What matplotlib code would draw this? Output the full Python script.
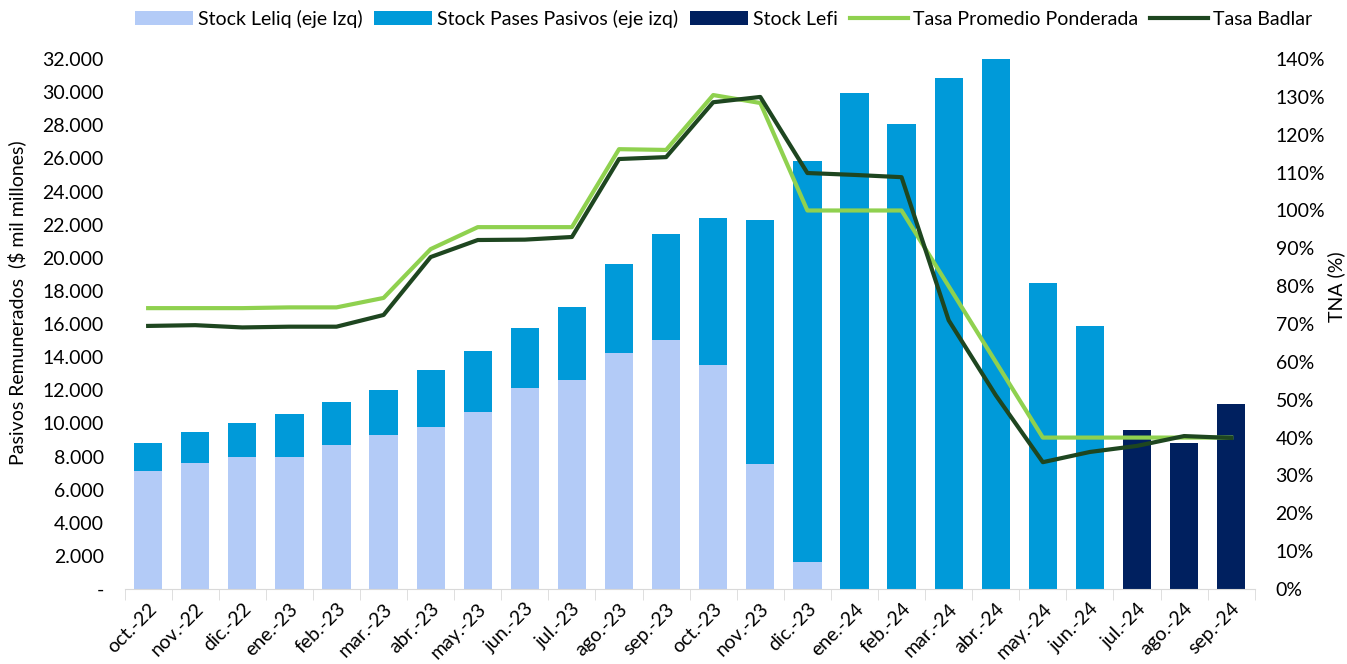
import numpy as np
import matplotlib.pyplot as plt
from matplotlib.ticker import FuncFormatter, MultipleLocator

plt.rcParams['font.family'] = ['Lato', 'DejaVu Sans']

# Datos: stocks en $ mil millones, tasas en % TNA
meses = ['oct.-22', 'nov.-22', 'dic.-22', 'ene.-23', 'feb.-23', 'mar.-23', 'abr.-23',
         'may.-23', 'jun.-23', 'jul.-23', 'ago.-23', 'sep.-23', 'oct.-23', 'nov.-23',
         'dic.-23', 'ene.-24', 'feb.-24', 'mar.-24', 'abr.-24', 'may.-24', 'jun.-24',
         'jul.-24', 'ago.-24', 'sep.-24']

stock_leliq = [7100, 7600, 7970, 7970, 8700, 9300, 9780, 10690, 12140, 12620, 14250,
               15040, 13530, 7550, 1630, 0, 0, 0, 0, 0, 0, 0, 0, 0]
stock_total_leliq_pases = [8820, 9480, 10020, 10570, 11290, 12020, 13220, 14370, 15760,
                           17030, 19620, 21440, 22400, 22280, 25840, 29950, 28080, 30850,
                           32060, 18480, 15880, 0, 0, 0]
stock_lefi = [0, 0, 0, 0, 0, 0, 0, 0, 0, 0, 0, 0, 0, 0, 0, 0, 0, 0, 0, 0, 0,
              9600, 8820, 11170]

tasa_prom = [74.2, 74.2, 74.2, 74.4, 74.4, 76.9, 89.8, 95.6, 95.6, 95.6, 116.2, 116.0,
             130.5, 128.4, 100.0, 100.0, 100.0, 80.0, 60.0, 40.0, 40.0, 40.0, 40.0, 40.0]
tasa_badlar = [69.5, 69.7, 69.1, 69.3, 69.3, 72.4, 87.7, 92.2, 92.3, 93.0, 113.6, 114.1,
               128.6, 130.0, 109.9, 109.4, 108.8, 71.0, 51.2, 33.5, 36.2, 37.8, 40.4, 39.9]

stock_pases = [t - l for t, l in zip(stock_total_leliq_pases, stock_leliq)]

c_leliq = '#b3cbf7'
c_pases = '#009ad9'
c_lefi = '#00205f'
c_prom = '#8fd14f'
c_badlar = '#1e4620'

x = np.arange(len(meses))
w = 0.6

fig = plt.figure(figsize=(13.47, 6.64), dpi=100)
ax = fig.add_axes([0.0925, 0.113, 0.839, 0.798])
ax2 = ax.twinx()

ax.bar(x, stock_leliq, w, color=c_leliq, label='Stock Leliq (eje Izq)')
ax.bar(x, stock_pases, w, bottom=stock_leliq, color=c_pases,
       label='Stock Pases Pasivos (eje izq)')
ax.bar(x, stock_lefi, w, color=c_lefi, label='Stock Lefi')

ax2.plot(x, tasa_prom, color=c_prom, lw=3, label='Tasa Promedio Ponderada')
ax2.plot(x, tasa_badlar, color=c_badlar, lw=3, label='Tasa Badlar')

ax.set_xlim(-0.5, len(meses) - 0.5)
ax.set_ylim(0, 32000)
ax2.set_ylim(0, 140)

ax.yaxis.set_major_locator(MultipleLocator(2000))
ax.yaxis.set_major_formatter(FuncFormatter(
    lambda v, p: '-' if v == 0 else f'{v:,.0f}'.replace(',', '.')))
ax2.yaxis.set_major_locator(MultipleLocator(10))
ax2.yaxis.set_major_formatter(FuncFormatter(lambda v, p: f'{v:.0f}%'))

ax.set_xticks(x)
ax.set_xticklabels(meses, rotation=45, ha='right', rotation_mode='anchor')
ax.set_xticks(np.arange(len(meses) + 1) - 0.5, minor=True)
ax.tick_params(axis='x', which='major', length=0, labelsize=14, pad=8)
ax.tick_params(axis='x', which='minor', length=8, color='#d9d9d9')
ax.tick_params(axis='y', length=0, labelsize=14, pad=15)
ax2.tick_params(axis='y', length=0, labelsize=14, pad=15)

for a in (ax, ax2):
    for s in ('top', 'left', 'right'):
        a.spines[s].set_visible(False)
ax.spines['bottom'].set_color('#d9d9d9')
ax2.spines['bottom'].set_visible(False)

ax.set_ylabel('Pasivos Remunerados  ($ mil millones)', fontsize=14)
ax.yaxis.set_label_coords(-0.087, 0.54)
ax2.set_ylabel('TNA (%)', fontsize=14)
ax2.yaxis.set_label_coords(1.064, 0.57)

h1, l1 = ax.get_legend_handles_labels()
h2, l2 = ax2.get_legend_handles_labels()
fig.legend(h1 + h2, l1 + l2, loc='center', bbox_to_anchor=(0.537, 0.972), ncol=5,
           frameon=False, fontsize=14, handlelength=3.0, handletextpad=0.25,
           columnspacing=0.6)

fig.savefig('out.png', dpi=100)
